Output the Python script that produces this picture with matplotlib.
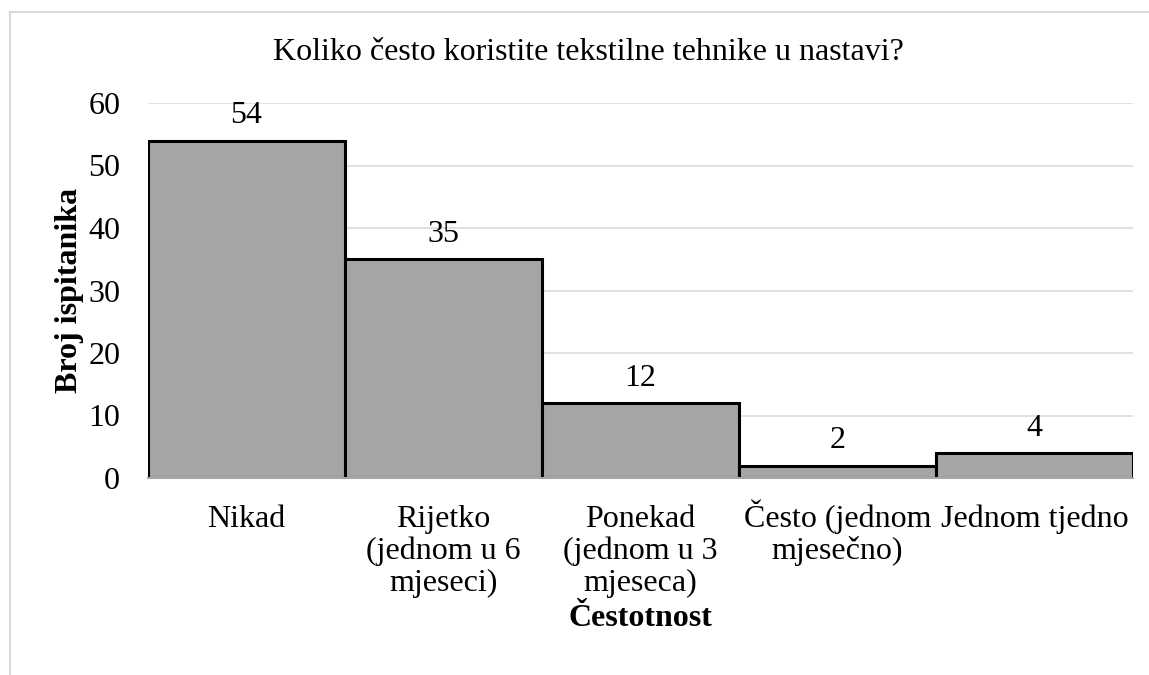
import matplotlib
matplotlib.use("Agg")
import matplotlib.pyplot as plt
from matplotlib.lines import Line2D

# podaci sa grafikona
kategorije = ["Nikad", "Rijetko\n(jednom u 6\nmjeseci)", "Ponekad\n(jednom u 3\nmjeseca)",
              "Često (jednom\nmjesečno)", "Jednom tjedno"]
broj = [54, 35, 12, 2, 4]
y_ticks = [0, 10, 20, 30, 40, 50, 60]

plt.rcParams['font.family'] = ['Liberation Serif', 'DejaVu Serif']
fs = 23

fig = plt.figure(figsize=(11.49, 6.75), dpi=100)
ax = fig.add_axes([148/1149, 1-478/675, (1133-148)/1149, (478-103)/675])

x = list(range(len(broj)))
ax.bar(x, broj, width=1.0, color='#a5a5a5', edgecolor='black', linewidth=2.2, zorder=3)

for xi, v in zip(x, broj):
    ax.annotate(str(v), (xi, v), xytext=(0, 7.5), textcoords='offset points',
                ha='center', va='bottom', fontsize=fs, zorder=4)

ax.set_xlim(-0.5, len(broj) - 0.5)
ax.set_ylim(0, 60)
ax.set_yticks(y_ticks)
ax.set_xticks(x)
ax.set_xticklabels([])
# oznake kategorija, svaka linija posebno da se poravnaju po osnovnoj liniji
for xi, k in zip(x, kategorije):
    for j, red in enumerate(k.split("\n")):
        ax.annotate(red, (xi, 0), xycoords=ax.get_xaxis_transform(),
                    xytext=(0, -35.5 - 23 * j), textcoords='offset points',
                    ha='center', va='baseline', fontsize=fs)
ax.tick_params(axis='y', labelsize=fs, length=0, pad=20)
ax.tick_params(axis='x', length=0)
ax.grid(axis='y', color='#d9d9d9', linewidth=1.1, zorder=0)
for s in ['top', 'right', 'left']:
    ax.spines[s].set_visible(False)
ax.spines['bottom'].set_color('#a6a6a6')
ax.spines['bottom'].set_linewidth(1.5)
ax.spines['bottom'].set_zorder(5)

ax.set_ylabel("Broj ispitanika", fontsize=fs, fontweight='bold', labelpad=3)
fig.text(640/1149, 1-626/675, "Čestotnost", ha='center', va='baseline',
         fontsize=fs, fontweight='bold')

fig.text(588/1149, 1-60/675, "Koliko često koristite tekstilne tehnike u nastavi?",
         ha='center', va='baseline', fontsize=fs)

# okvir grafikona
fig.add_artist(Line2D([10/1149, 10/1149], [0, 1-12/675], transform=fig.transFigure,
                      color='#d9d9d9', linewidth=1.5))
fig.add_artist(Line2D([10/1149, 1], [1-12/675, 1-12/675], transform=fig.transFigure,
                      color='#d9d9d9', linewidth=1.5))

fig.savefig("out.png", dpi=100)
